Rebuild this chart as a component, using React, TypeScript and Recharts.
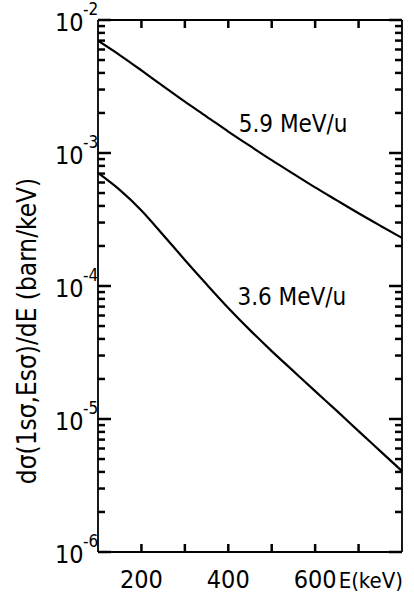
import { LineChart, Line, XAxis, YAxis, ReferenceDot, ReferenceLine } from 'recharts';

const energies = [100, 150, 200, 250, 300, 350, 400, 450, 500, 550, 600, 650, 700, 750, 800];
const upperValues = [
  6.98e-3, 5.45e-3, 4.18e-3, 3.18e-3, 2.43e-3, 1.88e-3, 1.45e-3, 1.13e-3, 8.83e-4, 6.97e-4,
  5.51e-4, 4.4e-4, 3.52e-4, 2.84e-4, 2.3e-4,
];
const lowerValues = [
  7.08e-4, 5.28e-4, 3.7e-4, 2.42e-4, 1.57e-4, 1.03e-4, 6.84e-5, 4.66e-5, 3.24e-5, 2.29e-5,
  1.62e-5, 1.15e-5, 8.11e-6, 5.74e-6, 4.06e-6,
];
const xTicks = [200, 300, 400, 500, 600, 700];
const xLabels = [200, 400, 600];
const yMajorTicks = [1e-6, 1e-5, 1e-4, 1e-3, 1e-2];
const curveLabels = [
  { text: '5.9 MeV/u', e: 424, v: 1.68e-3 },
  { text: '3.6 MeV/u', e: 421, v: 8.4e-5 },
];

const X_MIN = 100;
const X_MAX = 800;
const Y_MIN = 1e-6;
const Y_MAX = 1e-2;

const FONT = "'DejaVu Sans Condensed', 'Liberation Sans Narrow', sans-serif";
const INK = '#000';

// plot box is 304 x 532 px; inward tick lengths converted to data units
const PLOT_W = 304;
const DECADE_PX = 532 / 4;
const eLen = (px: number) => (px * (X_MAX - X_MIN)) / PLOT_W;
const yFactor = Math.pow(10, 8 / DECADE_PX);

// log minor ticks 2..9 in each decade
const yTicks: number[] = [];
yMajorTicks.forEach((m, i) => {
  yTicks.push(m);
  if (i < yMajorTicks.length - 1) for (let k = 2; k <= 9; k++) yTicks.push(k * m);
});

const isMajor = (v: number) => yMajorTicks.includes(v);

// flat list of short segments for the frame ticks
type Seg = { id: string; a: { x: number; y: number }; b: { x: number; y: number } };
const tickSegs: Seg[] = [];
yTicks.forEach((v, i) => {
  const len = eLen(isMajor(v) ? 13 : 7);
  tickSegs.push({ id: `l${i}`, a: { x: X_MIN, y: v }, b: { x: X_MIN + len, y: v } });
  tickSegs.push({ id: `r${i}`, a: { x: X_MAX - len, y: v }, b: { x: X_MAX, y: v } });
});
xTicks.forEach((e, i) => {
  tickSegs.push({ id: `b${i}`, a: { x: e, y: Y_MIN }, b: { x: e, y: Y_MIN * yFactor } });
  tickSegs.push({ id: `t${i}`, a: { x: e, y: Y_MAX / yFactor }, b: { x: e, y: Y_MAX } });
});

const data = energies.map((e, i) => ({ e, upper: upperValues[i], lower: lowerValues[i] }));

function LeftTick({ x, y, payload }: any) {
  const v = payload.value;
  if (!isMajor(v)) return <g />;
  const exp = Math.round(Math.log10(v));
  return (
    <g>
      <text x={x - 43} y={y + 11} fontSize={25} fontFamily={FONT} fill={INK}>
        10
      </text>
      <text x={x - 15} y={y - 5} fontSize={17} fontFamily={FONT} fill={INK}>
        {`-${-exp}`}
      </text>
    </g>
  );
}

function BottomTick({ x, y, payload }: any) {
  const v = payload.value;
  if (!xLabels.includes(v)) return <g />;
  return (
    <text x={x} y={y + 36} textAnchor="middle" fontSize={25} fontFamily={FONT} fill={INK}>
      {v}
    </text>
  );
}

const NoTick = () => <g />;

export default function App() {
  const axisLine = { stroke: INK, strokeWidth: 1.8 };
  return (
    <div style={{ position: 'absolute', left: 0, top: 0, width: 414, height: 593, background: '#fff' }}>
      <LineChart width={414} height={593} data={data} margin={{ top: 0, right: 0, bottom: 0, left: 0 }}>
        <XAxis
          dataKey="e"
          type="number"
          domain={[X_MIN, X_MAX]}
          ticks={xTicks}
          allowDataOverflow
          height={41}
          tickSize={0}
          tickMargin={0}
          tickLine={false}
          axisLine={axisLine}
          tick={BottomTick}
          interval={0}
          label={{
            content: ({ viewBox }: any) => (
              <text
                x={viewBox.x + viewBox.width + 1}
                y={viewBox.y + 36}
                textAnchor="end"
                fontSize={22}
                fontFamily={FONT}
                fill={INK}
              >
                E(keV)
              </text>
            ),
          }}
        />
        <XAxis
          xAxisId="top"
          orientation="top"
          dataKey="e"
          type="number"
          domain={[X_MIN, X_MAX]}
          allowDataOverflow
          height={20}
          tickLine={false}
          axisLine={axisLine}
          tick={NoTick}
        />
        <YAxis
          scale="log"
          domain={[Y_MIN, Y_MAX]}
          ticks={yMajorTicks}
          allowDataOverflow
          width={98}
          tickSize={0}
          tickMargin={0}
          tickLine={false}
          axisLine={axisLine}
          tick={LeftTick}
          interval={0}
          label={{
            content: ({ viewBox }: any) => {
              const cx = viewBox.x + 27;
              const cy = viewBox.y + viewBox.height / 2 + 45;
              return (
                <text
                  x={cx}
                  y={cy}
                  transform={`rotate(-90 ${cx} ${cy})`}
                  textAnchor="middle"
                  dominantBaseline="central"
                  fontSize={26}
                  fontFamily={FONT}
                  fill={INK}
                >
                  dσ(1sσ,Esσ)/dE (barn/keV)
                </text>
              );
            },
          }}
        />
        <YAxis
          yAxisId="right"
          orientation="right"
          scale="log"
          domain={[Y_MIN, Y_MAX]}
          allowDataOverflow
          width={12}
          tickLine={false}
          axisLine={axisLine}
          tick={NoTick}
        />
        {tickSegs.map((s) => (
          <ReferenceLine key={s.id} segment={[s.a, s.b]} stroke={INK} strokeWidth={2.5} ifOverflow="visible" />
        ))}
        <Line type="monotone" dataKey="upper" stroke={INK} strokeWidth={2.2} dot={false} isAnimationActive={false} />
        <Line type="monotone" dataKey="lower" stroke={INK} strokeWidth={2.2} dot={false} isAnimationActive={false} />
        {curveLabels.map((c) => (
          <ReferenceDot
            key={c.text}
            x={c.e}
            y={c.v}
            r={0}
            stroke="none"
            fill="none"
            label={{
              value: c.text,
              position: 'right',
              offset: 0,
              fontSize: 24,
              fontFamily: FONT,
              fill: INK,
            }}
          />
        ))}
      </LineChart>
    </div>
  );
}
